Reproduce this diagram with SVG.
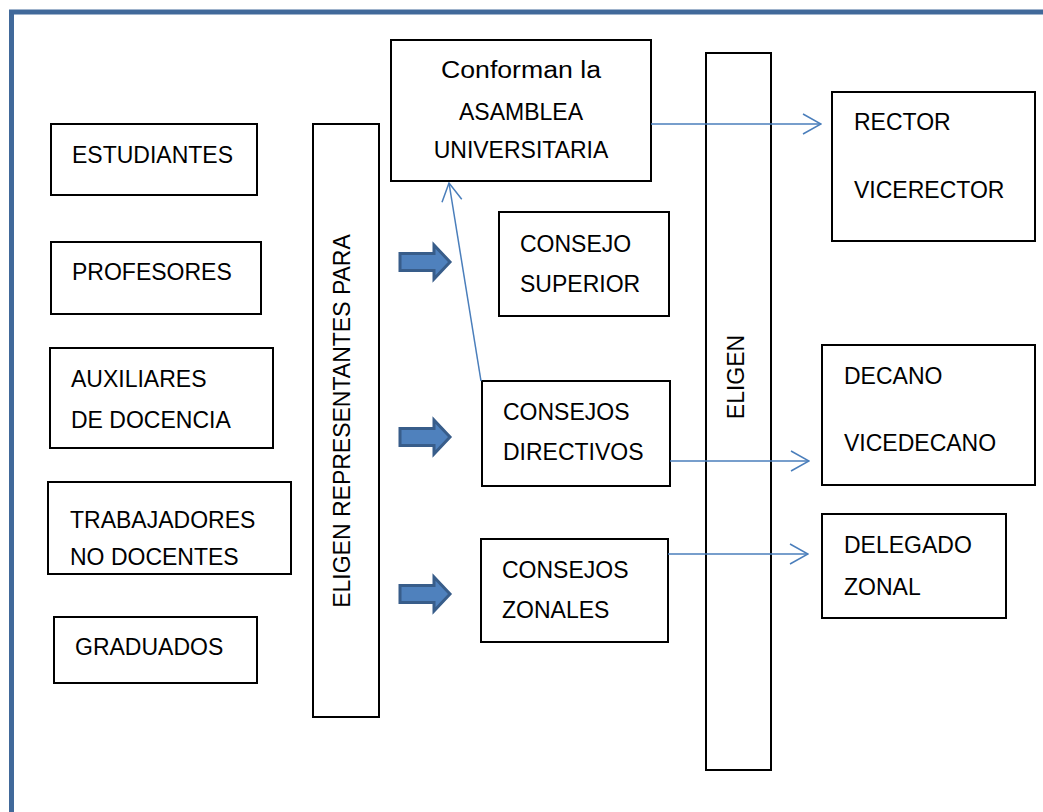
<svg xmlns="http://www.w3.org/2000/svg" width="1043" height="812" viewBox="0 0 1043 812">
<style>
.box{fill:none;stroke:#000;stroke-width:2}
.t{font-family:"Liberation Sans",Arial,sans-serif;font-size:23px;fill:#000}
.c{stroke:#4a7ebb;stroke-width:1.5;fill:none}
.blk{fill:#4f81bd;stroke:#385d8a;stroke-width:3;stroke-linejoin:miter}
</style>
<defs>
<marker id="open" viewBox="0 0 20 22" refX="19" refY="11" markerWidth="20" markerHeight="22" markerUnits="userSpaceOnUse" orient="auto">
<path d="M1,1 L19,11 L1,21" fill="none" stroke="#4a7ebb" stroke-width="1.5"/>
</marker>
<path id="blockArrow" d="M0,-8.5 H34 V-17 L50,0 L34,17 V8.5 H0 Z"/>
</defs>
<rect width="1043" height="812" fill="#fff"/>
<rect x="11.5" y="12" width="1100" height="900" fill="none" stroke="#41699a" stroke-width="5"/>

<g id="estudiantes"><rect class="box" x="51" y="124" width="206" height="71"/><text class="t" x="72" y="163">ESTUDIANTES</text></g>
<g id="profesores"><rect class="box" x="51" y="242" width="210" height="72"/><text class="t" x="72" y="280">PROFESORES</text></g>
<g id="auxiliares"><rect class="box" x="50" y="348" width="223" height="100"/><text class="t" x="71" y="387">AUXILIARES</text><text class="t" x="71" y="428">DE DOCENCIA</text></g>
<g id="trabajadores"><rect class="box" x="48" y="482" width="243" height="92"/><text class="t" x="70" y="528">TRABAJADORES</text><text class="t" x="70" y="565">NO DOCENTES</text></g>
<g id="graduados"><rect class="box" x="54" y="617" width="203" height="66"/><text class="t" x="75" y="655">GRADUADOS</text></g>

<g id="eligen-representantes"><rect class="box" x="313" y="124" width="66" height="593"/><text class="t" transform="translate(350,421) rotate(-90)" text-anchor="middle">ELIGEN REPRESENTANTES PARA</text></g>

<g id="asamblea"><rect class="box" x="391" y="40" width="260" height="141"/><text class="t" x="441" y="78" textLength="160" lengthAdjust="spacingAndGlyphs">Conforman la</text><text class="t" x="521" y="120" text-anchor="middle">ASAMBLEA</text><text class="t" x="521" y="158" text-anchor="middle">UNIVERSITARIA</text></g>
<g id="consejo-superior"><rect class="box" x="499" y="212" width="170" height="104"/><text class="t" x="520" y="252">CONSEJO</text><text class="t" x="520" y="292">SUPERIOR</text></g>
<g id="consejos-directivos"><rect class="box" x="482" y="381" width="188" height="105"/><text class="t" x="503" y="420">CONSEJOS</text><text class="t" x="503" y="460">DIRECTIVOS</text></g>
<g id="consejos-zonales"><rect class="box" x="481" y="539" width="187" height="103"/><text class="t" x="502" y="578">CONSEJOS</text><text class="t" x="502" y="618">ZONALES</text></g>

<g id="eligen"><rect class="box" x="706" y="53" width="65" height="717"/><text class="t" transform="translate(744,377) rotate(-90)" text-anchor="middle">ELIGEN</text></g>

<g id="rector"><rect class="box" x="832" y="92" width="203" height="149"/><text class="t" x="854" y="130">RECTOR</text><text class="t" x="854" y="198">VICERECTOR</text></g>
<g id="decano"><rect class="box" x="822" y="345" width="213" height="140"/><text class="t" x="844" y="384">DECANO</text><text class="t" x="844" y="451">VICEDECANO</text></g>
<g id="delegado"><rect class="box" x="822" y="514" width="184" height="104"/><text class="t" x="844" y="553">DELEGADO</text><text class="t" x="844" y="595">ZONAL</text></g>

<g id="connectors">
<use href="#blockArrow" class="blk" x="400" y="262"/>
<use href="#blockArrow" class="blk" x="400" y="437"/>
<use href="#blockArrow" class="blk" x="400" y="594"/>
<line class="c" x1="651" y1="124" x2="821" y2="124" marker-end="url(#open)"/>
<line class="c" x1="670" y1="461" x2="809" y2="461" marker-end="url(#open)"/>
<line class="c" x1="668" y1="554" x2="808" y2="554" marker-end="url(#open)"/>
<line class="c" x1="481" y1="381" x2="449" y2="183" marker-end="url(#open)"/>
</g>
</svg>
